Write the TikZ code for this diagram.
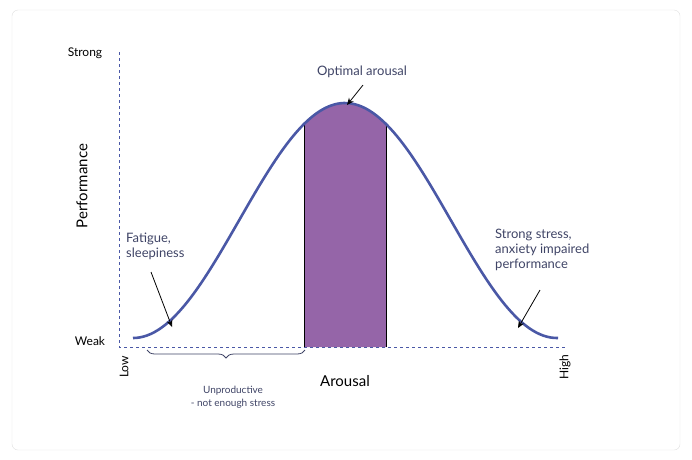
\documentclass[tikz,border=0pt]{standalone}
\usepackage{fontspec}
\setmainfont{Lato}
\usetikzlibrary{decorations.pathreplacing,arrows.meta}
\definecolor{txt}{HTML}{3F4466}
\definecolor{curve}{HTML}{4A58A6}
\definecolor{purp}{HTML}{9565A8}
\begin{document}
\begin{tikzpicture}[x=1pt,y=-1pt,
  lbl/.style={text=txt,font=\fontsize{12}{13}\selectfont,inner sep=0pt},
  ax/.style={text=black,font=\fontsize{12}{13}\selectfont,inner sep=0pt},
  arr/.style={-{Stealth[length=7pt,width=6pt]},thick,black},
  axisline/.style={dashed,curve,thick}]
\useasboundingbox (0,0) rectangle (692,459);
\draw[gray!25,rounded corners=6pt] (12,10) rectangle (680,450);
% fill region
\fill[purp] (304,347) -- plot[domain=304:386,samples=40] (\x,{338-235*(1+cos((\x-345)/212*180))/2}) -- (386,347) -- cycle;
\draw[black,thick] (304,347) -- (304,{338-235*(1+cos(-41/212*180))/2});
\draw[black,thick] (386,347) -- (386,{338-235*(1+cos(41/212*180))/2});
% axes
\draw[axisline] (119,52) -- (119,347) -- (565,347);
% curve
\draw[curve,line width=2.6pt] plot[domain=133:558,samples=120] (\x,{338-235*(1+cos((\x-345)/212*180))/2});
% axis labels
\node[ax] (strong) at (85,53) {Strong};
\node[ax] (weak) at (90,341) {Weak};
\node[ax,rotate=90,font=\fontsize{15}{16}\selectfont] (perf) at (82,186) {Performance};
\node[ax,rotate=90] (low) at (124,367) {Low};
\node[ax,rotate=90] (high) at (565,367) {High};
\node[ax,font=\fontsize{15}{16}\selectfont] (arousal) at (345,381) {Arousal};
% brace
\draw[decorate,decoration={brace,mirror,amplitude=8pt},txt,thick] (147,350) -- (305,350);
\node[lbl,align=center,font=\fontsize{10}{13}\selectfont] (unprod) at (233,397) {Unproductive\\- not enough stress};
% labels and arrows
\node[lbl,font=\fontsize{13}{15}\selectfont] (opt) at (362,72) {Optimal arousal};
\coordinate (opta) at (363,85); \coordinate (optb) at (347,105);
\draw[arr] (opta) -- (optb);
\node[lbl,align=left,anchor=west,font=\fontsize{13}{15}\selectfont] (fat) at (126,246) {Fatigue,\\sleepiness};
\coordinate (fata) at (151,272); \coordinate (fatb) at (172,327);
\draw[arr] (fata) -- (fatb);
\node[lbl,align=left,anchor=west,font=\fontsize{13}{15}\selectfont] (str) at (495,250) {Strong stress,\\anxiety impaired\\performance};
\coordinate (stra) at (540,290); \coordinate (strb) at (518,328);
\draw[arr] (stra) -- (strb);
\end{tikzpicture}
\end{document}
